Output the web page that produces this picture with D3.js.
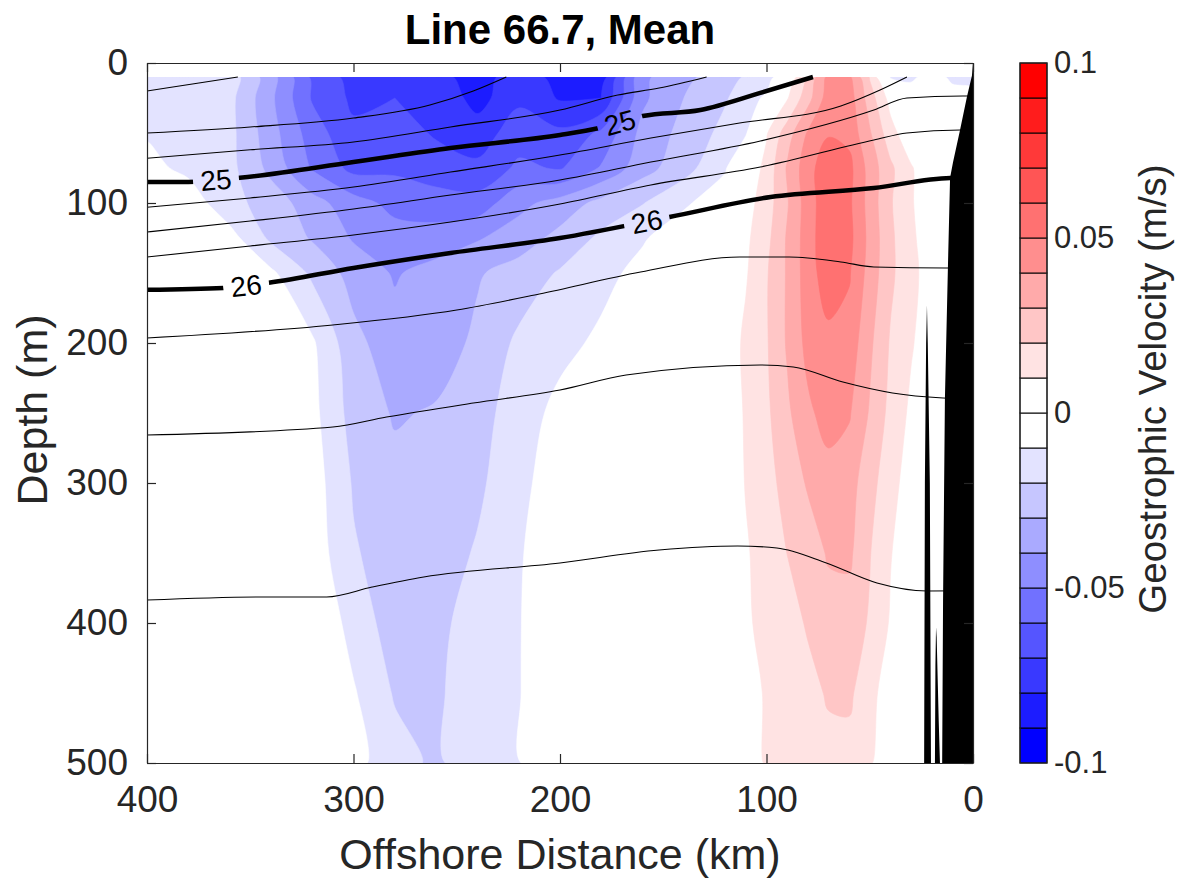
<!DOCTYPE html>
<html>
<head>
<meta charset="utf-8">
<script src="https://cdn.jsdelivr.net/npm/d3@7"></script>
<style>
  body { margin: 0; background: #fff; }
  text { font-family: "Liberation Sans", Arial, Helvetica, sans-serif; }
</style>
</head>
<body>
<svg id="chart" width="1177" height="886"></svg>
<script>
// ---- Section grid: station columns (km offshore) and depth rows (m) ----
const distanceKm = [400, 380, 360, 340, 320, 300, 280, 260, 240, 220, 200, 180, 160, 140, 120,
                    110, 100, 90, 80, 70, 60, 50, 40, 30, 20, 10, 0];
const depthM = [10, 25, 50, 75, 100, 125, 150, 200, 250, 300, 350, 400, 450, 500];

// Mean geostrophic velocity (m/s), one array per depth row, columns follow distanceKm
const vel10  = [-0.012, -0.012, -0.0145, -0.036, -0.062, -0.074, -0.072, -0.075, -0.087, -0.072, -0.085, -0.086, -0.042, -0.033, -0.024, -0.019, -0.016, 0.001, 0.021, 0.043, 0.042, 0.019, -0.011, -0.012, -0.006, -0.012, -0.012];
const vel25  = [-0.012, -0.013, -0.017, -0.038, -0.061, -0.072, -0.070, -0.072, -0.084, -0.072, -0.081, -0.080, -0.042, -0.030, -0.021, -0.015, -0.008, 0.009, 0.026, 0.045, 0.045, 0.025, 0.006, -0.004, -0.003, -0.006, -0.008];
const vel50  = [-0.011, -0.012, -0.017, -0.036, -0.055, -0.068, -0.066, -0.071, -0.075, -0.065, -0.068, -0.058, -0.037, -0.027, -0.017, -0.011, 0.009, 0.025, 0.041, 0.049, 0.047, 0.031, 0.014, 0.002, -0.002, -0.002, -0.002];
const vel75  = [-0.007, -0.0125, -0.017, -0.033, -0.051, -0.063, -0.062, -0.066, -0.068, -0.058, -0.061, -0.049, -0.034, -0.024, -0.011, 0.002, 0.013, 0.031, 0.046, 0.057, 0.053, 0.036, 0.022, 0.011, 0.002, -0.002, -0.002];
const vel100 = [0.000, -0.004, -0.017, -0.024, -0.036, -0.046, -0.053, -0.055, -0.056, -0.043, -0.036, -0.027, -0.0205, -0.0115, -0.004, 0.006, 0.015, 0.029, 0.045, 0.057, 0.052, 0.036, 0.021, 0.011, 0.003, -0.001, -0.001];
const vel125 = [0.004, 0.002, -0.006, -0.022, -0.031, -0.041, -0.046, -0.046, -0.041, -0.035, -0.027, -0.018, -0.011, -0.004, 0.004, 0.008, 0.017, 0.031, 0.045, 0.058, 0.053, 0.037, 0.022, 0.012, 0.004, 0.000, 0.000];
const vel150 = [0.004, 0.003, 0.001, -0.008, -0.022, -0.034, -0.041, -0.036, -0.031, -0.026, -0.019, -0.013, -0.007, -0.002, 0.004, 0.009, 0.019, 0.031, 0.045, 0.056, 0.051, 0.036, 0.022, 0.013, 0.005, 0.000, 0.000];
const vel200 = [0.003, 0.003, 0.003, 0.000, -0.0085, -0.027, -0.036, -0.035, -0.028, -0.018, -0.013, -0.008, -0.002, 0.001, 0.004, 0.012, 0.019, 0.031, 0.043, 0.047, 0.046, 0.032, 0.019, 0.011, 0.004, 0.000, 0.000];
const vel250 = [0.002, 0.002, 0.002, 0.001, -0.007, -0.024, -0.031, -0.029, -0.024, -0.015, -0.007, -0.001, 0.000, 0.002, 0.004, 0.011, 0.018, 0.028, 0.038, 0.044, 0.041, 0.029, 0.017, 0.008, 0.003, 0.000, 0.000];
const vel300 = [0.002, 0.002, 0.002, 0.002, -0.005, -0.021, -0.027, -0.027, -0.022, -0.013, -0.004, 0.000, 0.000, 0.001, 0.003, 0.0105, 0.016, 0.024, 0.031, 0.036, 0.034, 0.024, 0.013, 0.006, 0.002, 0.000, 0.000];
const vel350 = [0.001, 0.001, 0.001, 0.001, -0.004, -0.019, -0.025, -0.025, -0.019, -0.011, -0.003, 0.000, 0.000, 0.001, 0.003, 0.009, 0.014, 0.0201, 0.025, 0.031, 0.032, 0.0205, 0.0105, 0.004, 0.001, 0.000, 0.000];
const vel400 = [0.000, 0.000, 0.000, 0.000, 0.000, -0.014, -0.025, -0.023, -0.015, -0.0105, -0.003, 0.000, 0.000, 0.000, 0.002, 0.009, 0.012, 0.016, 0.021, 0.026, 0.025, 0.019, 0.009, 0.003, 0.001, 0.000, 0.000];
const vel450 = [0.000, 0.000, 0.000, 0.000, 0.003, -0.009, -0.021, -0.022, -0.013, -0.0105, -0.002, 0.000, 0.000, 0.000, 0.001, 0.006, 0.011, 0.014, 0.017, 0.021, 0.022, 0.013, 0.005, 0.001, 0.000, 0.000, 0.000];
const vel500 = [0.000, 0.000, 0.000, 0.000, 0.004, -0.007, -0.016, -0.022, -0.013, -0.0105, -0.002, 0.000, 0.000, 0.000, 0.001, 0.004, 0.011, 0.013, 0.015, 0.017, 0.016, 0.011, 0.003, 0.000, 0.000, 0.000, 0.000];
const velocityRows = [vel10, vel25, vel50, vel75, vel100, vel125, vel150, vel200, vel250, vel300, vel350, vel400, vel450, vel500];

// Filled contour levels (m/s) and colorbar ticks
const velocityLevels = d3.range(-10, 10).map(k => k / 100);
const colorbarTicks = [-0.1, -0.05, 0, 0.05, 0.1];

// Potential density (sigma-theta) isolines: distance (km) and depth (m) of each line
const sigmaLevels = [24.25, 24.5, 24.75, 25, 25.25, 25.5, 25.75, 26, 26.25, 26.5, 26.75];
const isoKm = [
  [400, 378, 356],
  [400, 350, 300, 263, 242, 226],
  [400, 350, 300, 253, 200, 172, 152, 129],
  [400, 380, 355, 300, 253, 200, 181, 160, 132, 103, 77.5],
  [400, 350, 300, 253, 200, 156, 113, 64, 45, 32],
  [400, 350, 300, 253, 200, 156, 103, 48, 32, 5, 0],
  [400, 350, 300, 253, 200, 156, 103, 48, 32, 6, 0],
  [400, 363, 341, 300, 253, 200, 147, 98, 48, 11, 0],
  [400, 310, 250, 210, 161, 113, 89, 64, 48, 13, 0],
  [400, 310, 284, 242, 200, 168, 103, 87, 63, 39, 14.5, 0],
  [400, 342, 313, 291, 266, 200, 152, 114, 95, 71, 46.5, 22.3, 0]
];
const isoDepth = [
  [20, 15, 10],
  [50, 45.7, 39.3, 30, 20, 10],
  [68, 62, 56.4, 45.7, 33.6, 22.9, 17.9, 10],
  [85, 85, 82, 70.7, 60.7, 51.4, 46.4, 37.9, 33.6, 21.4, 10],
  [103, 96.4, 88.6, 77.9, 65.7, 53.6, 42.9, 30.7, 19.3, 10],
  [120.7, 112.9, 104.3, 94.3, 83.6, 70.7, 55.7, 33.6, 25, 23.6, 23.6],
  [138.6, 130.7, 122.9, 113.6, 100.7, 87.1, 74.3, 55, 50, 47.9, 47.9],
  [162, 160.7, 157, 146.4, 135.7, 125, 110, 95.7, 89.3, 82.1, 82],
  [196.4, 187.1, 176.4, 165, 149.3, 138.6, 138.6, 142.1, 145.7, 146.4, 146.4],
  [265.7, 260, 252.9, 242.9, 233.6, 222.9, 215.7, 217.1, 227.9, 235.7, 239.3, 240],
  [383.6, 381.4, 381.4, 374.3, 367.1, 357.1, 347.9, 345, 346.4, 357.1, 371.4, 377.1, 377]
];
// Where the labelled isolines carry their inline labels (km along the line)
const labelKm25 = [366.6, 171];
const labelKm26 = [352, 158];

// Bottom topography near the coast: distance (km) and bottom depth (m)
const bottomKm    = [0, 0.5, 2.9, 6.3, 9.7, 11.1, 12.1, 13.6, 14.5, 15.0, 15.6, 16.6, 17.6, 17.9, 18.2, 18.5, 19.5, 20.3, 20.9, 21.9, 22.3, 22.7, 23.3, 23.7, 25, 30];
const bottomDepth = [0, 9, 24, 48, 71, 82, 143, 240, 384, 520, 520, 470, 410, 403, 430, 520, 600, 520, 300, 200, 173, 200, 300, 520, 800, 1000];

// Axis ticks
const xTicks = [400, 300, 200, 100, 0];
const yTicks = [0, 100, 200, 300, 400, 500];

// ---- Layout ----
const W = 1177, H = 886;
const plot = { left: 147, top: 63, right: 973, bottom: 763 };
const x = d3.scaleLinear().domain([400, 0]).range([plot.left, plot.right]);
const y = d3.scaleLinear().domain([0, 500]).range([plot.top, plot.bottom]);
const axisColor = "#262626";

const svg = d3.select("#chart");
svg.append("rect").attr("width", W).attr("height", H).attr("fill", "#fff");
const defs = svg.append("defs");
defs.append("clipPath").attr("id", "plotClip")
  .append("rect")
  .attr("x", plot.left).attr("y", plot.top)
  .attr("width", plot.right - plot.left).attr("height", plot.bottom - plot.top);
// the velocity field only exists between the shallowest and deepest grid rows
defs.append("clipPath").attr("id", "fieldClip")
  .append("rect")
  .attr("x", x(d3.max(distanceKm))).attr("y", y(d3.min(depthM)))
  .attr("width", x(d3.min(distanceKm)) - x(d3.max(distanceKm)))
  .attr("height", y(d3.max(depthM)) - y(d3.min(depthM)));

// Colour of the band [t, t + 0.01)
function bandColor(t) {
  const k = Math.round(t * 100);
  if (k >= 0) return d3.interpolateRgb("#ffffff", "#ff0000")(k / 9);
  return d3.interpolateRgb("#ffffff", "#0000ff")((-k - 1) / 9);
}

// ---- Filled velocity contours ----
const nx = distanceKm.length, ny = depthM.length;
const grid = velocityRows.flat();
const colToKm = d3.scaleLinear().domain(d3.range(nx)).range(distanceKm).clamp(true);
const rowToDepth = d3.scaleLinear().domain(d3.range(ny)).range(depthM).clamp(true);
const toPx = ([gx, gy]) => [x(colToKm(gx - 0.5)), y(rowToDepth(gy - 0.5))];
const bands = d3.contours().size([nx, ny]).thresholds(velocityLevels)(grid);
const ringLine = d3.line().curve(d3.curveCatmullRomClosed.alpha(0.5));
const bandPath = b => b.coordinates
  .map(poly => poly.map(ring => ringLine(ring.slice(0, -1).map(toPx))).join(""))
  .join("");
svg.append("g").attr("clip-path", "url(#fieldClip)")
  .selectAll("path").data(bands).join("path")
  .attr("d", bandPath)
  .attr("fill-rule", "evenodd")
  .attr("fill", d => bandColor(d.value))
  .attr("stroke", d => bandColor(d.value))
  .attr("stroke-width", 0.6);

// ---- Isopycnals with inline labels ----
const isoLine = d3.line().x(d => x(d[0])).y(d => y(d[1])).curve(d3.curveMonotoneX);
const labels = [];
sigmaLevels.forEach((s, i) => {
  if (!Number.isInteger(s)) return;
  const kms = s === 25 ? labelKm25 : labelKm26;
  const depthAt = d3.scaleLinear().domain(isoKm[i]).range(isoDepth[i]);
  kms.forEach(k => {
    const px = x(k), py = y(depthAt(k));
    const ang = Math.atan2(y(depthAt(k - 6)) - y(depthAt(k + 6)), x(k - 6) - x(k + 6)) * 180 / Math.PI;
    labels.push({ text: String(s), px, py, ang });
  });
});
const mask = defs.append("mask").attr("id", "labelGaps")
  .attr("maskUnits", "userSpaceOnUse")
  .attr("x", 0).attr("y", 0).attr("width", W).attr("height", H);
mask.append("rect").attr("width", W).attr("height", H).attr("fill", "#fff");
labels.forEach(l => {
  mask.append("rect")
    .attr("x", -23).attr("y", -15).attr("width", 46).attr("height", 30)
    .attr("transform", `translate(${l.px},${l.py}) rotate(${l.ang})`)
    .attr("fill", "#000");
});

const gIso = svg.append("g").attr("clip-path", "url(#plotClip)");
sigmaLevels.forEach((s, i) => {
  const pts = isoKm[i].map((k, j) => [k, isoDepth[i][j]]);
  const major = Number.isInteger(s);
  gIso.append("path")
    .attr("d", isoLine(pts))
    .attr("fill", "none")
    .attr("stroke", "#000")
    .attr("stroke-width", major ? 4.5 : 1.1)
    .attr("stroke-linejoin", "round")
    .attr("mask", major ? "url(#labelGaps)" : null);
});
gIso.selectAll("text.clabel").data(labels).join("text")
  .attr("class", "clabel")
  .attr("transform", d => `translate(${d.px},${d.py}) rotate(${d.ang})`)
  .attr("text-anchor", "middle")
  .attr("dy", "0.36em")
  .attr("font-size", 28)
  .attr("fill", "#000")
  .text(d => d.text);

// ---- Bottom topography ----
const bottomArea = d3.area()
  .x(d => x(d[0]))
  .y0(y(1000))
  .y1(d => y(d[1]));
svg.append("path")
  .attr("clip-path", "url(#plotClip)")
  .attr("d", bottomArea(bottomKm.map((k, i) => [k, bottomDepth[i]])))
  .attr("fill", "#000");

// ---- Axes (ticks inside, boxed) ----
function styleAxis(g, size) {
  g.attr("color", axisColor).attr("font-size", size)
   .attr("font-family", "'Liberation Sans', Arial, Helvetica, sans-serif");
  g.selectAll("path.domain").attr("stroke-width", 1.2);
  g.selectAll(".tick line").attr("stroke-width", 1.2);
}
svg.append("g").attr("transform", `translate(0,${plot.bottom})`)
  .call(d3.axisBottom(x).tickValues(xTicks).tickSizeInner(-9).tickSizeOuter(0).tickPadding(23).tickFormat(d3.format("d")))
  .call(g => styleAxis(g, 37));
svg.append("g").attr("transform", `translate(0,${plot.top})`)
  .call(d3.axisTop(x).tickValues(xTicks).tickSizeInner(-9).tickSizeOuter(0).tickFormat(""))
  .call(g => styleAxis(g, 37));
svg.append("g").attr("transform", `translate(${plot.left},0)`)
  .call(d3.axisLeft(y).tickValues(yTicks).tickSizeInner(-9).tickSizeOuter(0).tickPadding(19).tickFormat(d3.format("d")))
  .call(g => styleAxis(g, 37));
svg.append("g").attr("transform", `translate(${plot.right},0)`)
  .call(d3.axisRight(y).tickValues(yTicks).tickSizeInner(-9).tickSizeOuter(0).tickFormat(""))
  .call(g => styleAxis(g, 37));

// ---- Titles ----
svg.append("text").attr("x", 560).attr("y", 44).attr("text-anchor", "middle")
  .attr("font-size", 42).attr("font-weight", "bold").attr("fill", "#000")
  .text("Line 66.7, Mean");
svg.append("text").attr("x", 560).attr("y", 869).attr("text-anchor", "middle")
  .attr("font-size", 43).attr("fill", axisColor)
  .text("Offshore Distance (km)");
svg.append("text").attr("transform", "translate(47,410) rotate(-90)").attr("text-anchor", "middle")
  .attr("font-size", 43).attr("fill", axisColor)
  .text("Depth (m)");

// ---- Colorbar ----
const cb = { left: 1020, width: 27 };
const cy = d3.scaleLinear().domain([-0.1, 0.1]).range([plot.bottom, plot.top]);
const gCb = svg.append("g");
gCb.selectAll("rect.bin").data(velocityLevels).join("rect")
  .attr("class", "bin")
  .attr("x", cb.left).attr("width", cb.width)
  .attr("y", d => cy(d + 0.01)).attr("height", d => cy(d) - cy(d + 0.01))
  .attr("fill", d => bandColor(d))
  .attr("stroke", "#000").attr("stroke-width", 1);
gCb.append("rect")
  .attr("x", cb.left).attr("y", plot.top).attr("width", cb.width).attr("height", plot.bottom - plot.top)
  .attr("fill", "none").attr("stroke", axisColor).attr("stroke-width", 1.2);
svg.append("g").attr("transform", `translate(${cb.left + cb.width},0)`)
  .call(d3.axisRight(cy).tickValues(colorbarTicks).tickSize(0).tickPadding(7)
    .tickFormat(t => t === 0 ? "0" : (t < 0 ? "-" : "") + String(Math.abs(t))))
  .call(g => { styleAxis(g, 31); g.select("path.domain").remove(); });
svg.append("text").attr("transform", "translate(1166,389) rotate(-90)").attr("text-anchor", "middle")
  .attr("font-size", 38.5).attr("fill", axisColor)
  .text("Geostrophic Velocity (m/s)");
</script>
</body>
</html>
